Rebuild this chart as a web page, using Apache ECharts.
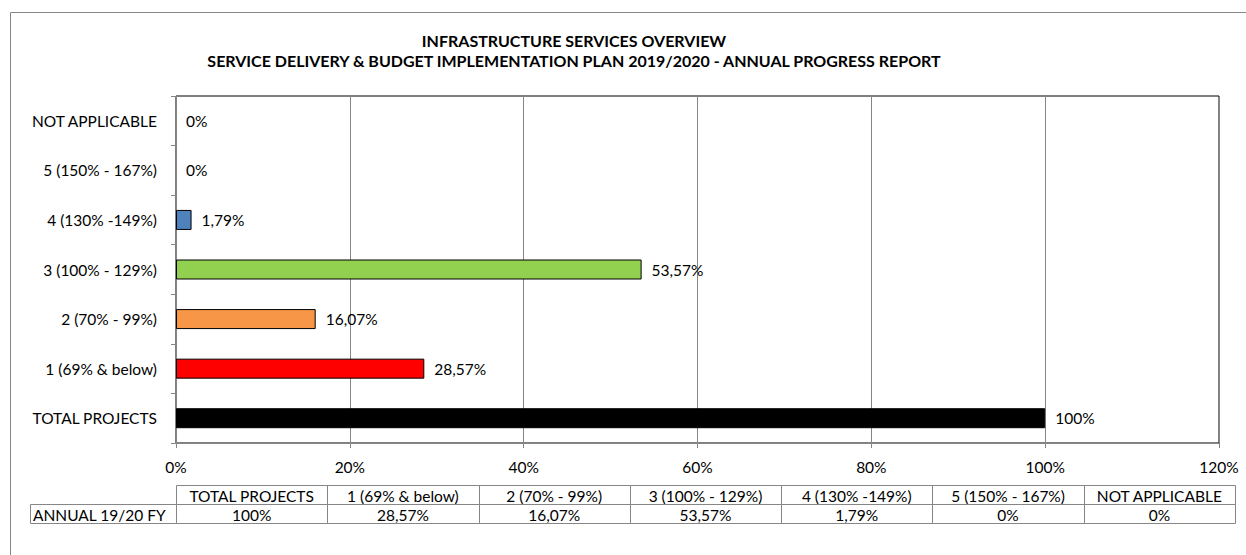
<!DOCTYPE html>
<html>
<head>
<meta charset="utf-8">
<title>Infrastructure Services Overview</title>
<script src="https://cdn.jsdelivr.net/npm/echarts@6/dist/echarts.min.js"></script>
<style>
  html, body { margin: 0; padding: 0; background: #ffffff; }
  #chart { width: 1246px; height: 555px; }
</style>
</head>
<body>
<div id="chart"></div>
<script>
// Performance categories, bottom to top on the chart
const categories = [
  'TOTAL PROJECTS',
  '1 (69% & below)',
  '2 (70% - 99%)',
  '3 (100% - 129%)',
  '4 (130% -149%)',
  '5 (150% - 167%)',
  'NOT APPLICABLE'
];
// Share of projects per category, percent
const values = [100, 28.57, 16.07, 53.57, 1.79, 0, 0];
const barColors = ['#000000', '#FF0000', '#F79646', '#92D050', '#4F81BD', '#9BBB59', '#8064A2'];
const tableRowLabel = 'ANNUAL 19/20 FY';
const titleLines = [
  'INFRASTRUCTURE SERVICES OVERVIEW',
  'SERVICE DELIVERY & BUDGET IMPLEMENTATION PLAN 2019/2020 - ANNUAL PROGRESS REPORT'
];

const FONT = 'Lato, "Open Sans", sans-serif';
const FS = 15.5;
const GRAY = '#868686';

// Percent with a decimal comma
const fmtPct = v => String(v).replace('.', ',') + '%';

// Layout of the plot and the data table underneath it
const plot = { left: 176, right: 1219, top: 96, bottom: 443 };
const table = { left: 176, right: 1235, labelLeft: 30, headTop: 485, rowTop: 504, rowBottom: 523 };

const graphics = [];

// Outer chart frame
graphics.push({
  type: 'rect', silent: true,
  shape: { x: 10.5, y: 12.5, width: 1300, height: 700 },
  style: { fill: 'none', stroke: GRAY, lineWidth: 1 }
});

// Two-line bold heading
titleLines.forEach((t, i) => {
  graphics.push({
    type: 'text', x: 574, y: 40 + i * 20,
    style: {
      text: t, fill: '#000', font: 'bold 16px ' + FONT,
      textAlign: 'center', textVerticalAlign: 'middle'
    }
  });
});

// Data table: header row with categories, one row of values
const colW = (table.right - table.left) / categories.length;
const cellFont = FS + 'px ' + FONT;
categories.forEach((c, i) => {
  const x = table.left + i * colW;
  const w = Math.round(x + colW) - Math.round(x);
  graphics.push({
    type: 'rect', silent: true,
    shape: { x: Math.round(x) + 0.5, y: table.headTop + 0.5, width: w, height: table.rowTop - table.headTop },
    style: { fill: 'none', stroke: GRAY, lineWidth: 1 }
  });
  graphics.push({
    type: 'rect', silent: true,
    shape: { x: Math.round(x) + 0.5, y: table.rowTop + 0.5, width: w, height: table.rowBottom - table.rowTop },
    style: { fill: 'none', stroke: GRAY, lineWidth: 1 }
  });
  graphics.push({
    type: 'text', x: x + colW / 2, y: (table.headTop + table.rowTop) / 2 + 1,
    style: { text: c, fill: '#000', font: cellFont, textAlign: 'center', textVerticalAlign: 'middle' }
  });
  graphics.push({
    type: 'text', x: x + colW / 2, y: (table.rowTop + table.rowBottom) / 2 + 1,
    style: { text: fmtPct(values[i]), fill: '#000', font: cellFont, textAlign: 'center', textVerticalAlign: 'middle' }
  });
});
graphics.push({
  type: 'rect', silent: true,
  shape: { x: table.labelLeft + 0.5, y: table.rowTop + 0.5, width: table.left - table.labelLeft, height: table.rowBottom - table.rowTop },
  style: { fill: 'none', stroke: GRAY, lineWidth: 1 }
});
graphics.push({
  type: 'text', x: table.labelLeft + 3, y: (table.rowTop + table.rowBottom) / 2 + 1,
  style: { text: tableRowLabel, fill: '#000', font: cellFont, textAlign: 'left', textVerticalAlign: 'middle' }
});

const chart = echarts.init(document.getElementById('chart'), null, { renderer: 'svg' });

chart.setOption({
  backgroundColor: '#ffffff',
  animation: false,
  textStyle: { fontFamily: FONT },
  grid: {
    left: plot.left, right: 1246 - plot.right, top: plot.top, bottom: 555 - plot.bottom,
    show: true, borderColor: '#000', borderWidth: 1, containLabel: false
  },
  xAxis: {
    type: 'value', min: 0, max: 120, interval: 20,
    axisLine: { show: true, lineStyle: { color: GRAY, width: 1 } },
    axisTick: { show: true, length: 5, lineStyle: { color: GRAY } },
    splitLine: { show: true, lineStyle: { color: GRAY, width: 1 } },
    axisLabel: { formatter: '{value}%', color: '#000', fontSize: FS, fontFamily: FONT, margin: 16 }
  },
  yAxis: {
    type: 'category', data: categories,
    axisLine: { show: true, lineStyle: { color: GRAY, width: 1 } },
    axisTick: { show: true, length: 5, alignWithLabel: false, lineStyle: { color: GRAY } },
    splitLine: { show: false },
    axisLabel: { color: '#000', fontSize: FS, fontFamily: FONT, margin: 19 }
  },
  series: [{
    type: 'bar',
    barWidth: 20,
    data: values.map((v, i) => ({
      value: v,
      itemStyle: { color: barColors[i], borderWidth: v === 0 ? 0 : 1 }
    })),
    itemStyle: { borderColor: '#000', borderWidth: 1 },
    label: {
      show: true, position: 'right', distance: 10,
      color: '#000', fontSize: FS, fontFamily: FONT,
      formatter: p => fmtPct(p.value)
    }
  }],
  graphic: graphics
});
</script>
</body>
</html>
